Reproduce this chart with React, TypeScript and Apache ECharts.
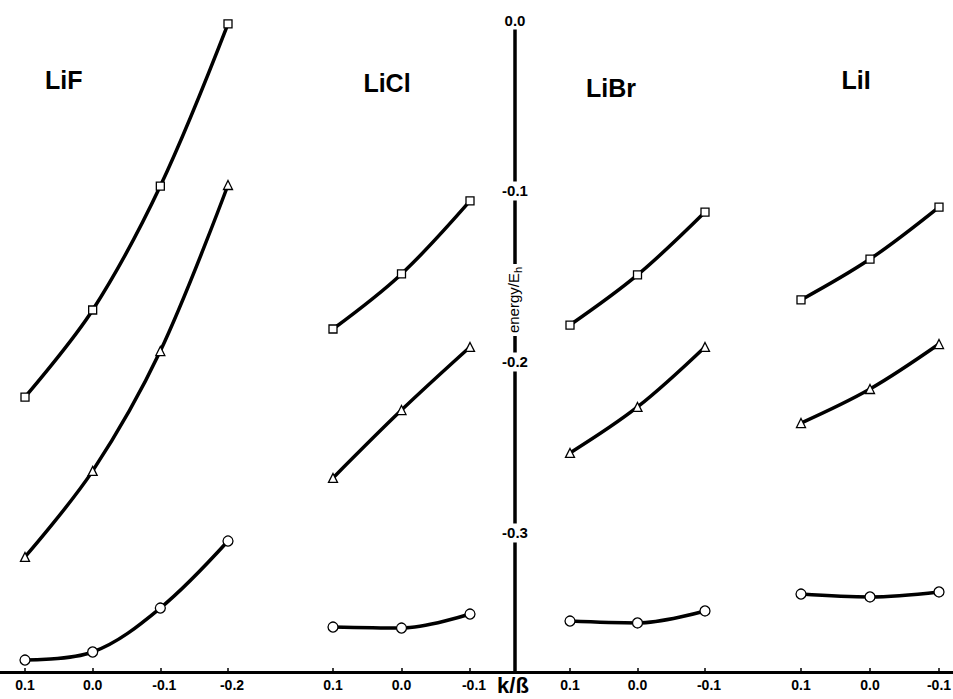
import React, { useEffect, useRef } from "react";
import * as echarts from "echarts";

// k values (k / ß) for each panel
const kLiF = [0.1, 0.0, -0.1, -0.2];
const kOther = [0.1, 0.0, -0.1];

// energies / E_h
const LiF_square = [-0.2205, -0.1696, -0.0971, -0.0023];
const LiF_triangle = [-0.314, -0.2637, -0.1936, -0.0965];
const LiF_circle = [-0.3743, -0.3696, -0.3439, -0.3047];

const LiCl_square = [-0.1807, -0.1485, -0.1058];
const LiCl_triangle = [-0.2678, -0.2281, -0.1912];
const LiCl_circle = [-0.355, -0.3556, -0.3474];

const LiBr_square = [-0.1784, -0.1491, -0.1123];
const LiBr_triangle = [-0.2532, -0.2263, -0.1912];
const LiBr_circle = [-0.3515, -0.3526, -0.3456];

const LiI_square = [-0.1637, -0.1398, -0.1094];
const LiI_triangle = [-0.2357, -0.2158, -0.1895];
const LiI_circle = [-0.3357, -0.3374, -0.3345];

const energyTicks = [0, -0.1, -0.2, -0.3];
const panelNames = ["LiF", "LiCl", "LiBr", "LiI"];

const FONT = "'Liberation Sans', Arial, Helvetica, sans-serif";
const Y_MIN = -0.3813;
const Y_MAX = 0;

const fmt = (v: number) => {
  const r = Math.round(v * 10) / 10;
  return r === 0 ? "0.0" : r.toFixed(1);
};

export default function App() {
  const ref = useRef<HTMLDivElement>(null);

  useEffect(() => {
    if (!ref.current) return;
    const chart = echarts.init(ref.current, undefined, { renderer: "svg" });

    const panels = [
      { name: panelNames[0], k: kLiF, sq: LiF_square, tr: LiF_triangle, ci: LiF_circle, left: 25, width: 203, min: -0.2, tx: 45, ty: 80, align: "left", negPad: 8 },
      { name: panelNames[1], k: kOther, sq: LiCl_square, tr: LiCl_triangle, ci: LiCl_circle, left: 333, width: 137, min: -0.1, tx: 387, ty: 83, align: "center", negPad: 8 },
      { name: panelNames[2], k: kOther, sq: LiBr_square, tr: LiBr_triangle, ci: LiBr_circle, left: 570, width: 135, min: -0.1, tx: 611, ty: 88, align: "center", negPad: 8 },
      { name: panelNames[3], k: kOther, sq: LiI_square, tr: LiI_triangle, ci: LiI_circle, left: 801, width: 138, min: -0.1, tx: 856, ty: 80, align: "center", negPad: 0 },
    ];

    const labelBase = { fontFamily: FONT, fontWeight: "bold" as const, fontSize: 14, color: "#000" };

    const grids: any[] = [
      { left: 0, right: 0, top: 20, bottom: 27, containLabel: false, outerBoundsMode: "none" },
    ];
    const xAxes: any[] = [
      {
        gridIndex: 0,
        type: "value",
        min: 0,
        max: 1,
        axisLine: { show: true, onZero: false, lineStyle: { color: "#000", width: 3 } },
        axisTick: { show: false },
        axisLabel: { show: false },
        splitLine: { show: false },
      },
    ];
    const yAxes: any[] = [
      {
        gridIndex: 0,
        type: "value",
        min: Y_MIN,
        max: Y_MAX,
        position: "left",
        offset: -515,
        axisLine: { show: true, onZero: false, lineStyle: { color: "#000", width: 3.5 } },
        axisTick: { show: false },
        splitLine: { show: false },
        axisLabel: {
          show: true,
          customValues: energyTicks,
          formatter: (v: number) => fmt(v),
          align: "center",
          verticalAlign: "middle",
          margin: 0,
          ...labelBase,
          fontSize: 15,
          backgroundColor: "#fff",
          padding: [2, 2, 2, 2],
          showMinLabel: true,
          showMaxLabel: true,
        },
      },
    ];
    const series: any[] = [];
    const graphics: any[] = [];

    panels.forEach((p, i) => {
      const gi = i + 1;
      grids.push({ left: p.left, width: p.width, top: 20, bottom: 27, containLabel: false, outerBoundsMode: "none" });
      xAxes.push({
        gridIndex: gi,
        type: "value",
        inverse: true,
        min: p.min,
        max: 0.1,
        interval: 0.1,
        axisLine: { show: false, onZero: false },
        axisTick: { show: true, inside: true, length: 4, lineStyle: { color: "#000", width: 1.5 } },
        axisLabel: {
          show: true,
          formatter: (v: number) => {
            const s = fmt(v);
            return s.startsWith("-") ? `{neg|${s}}` : s;
          },
          ...labelBase,
          margin: 6,
          rich: {
            neg: { ...labelBase, padding: [0, 0, 0, p.negPad] },
          },
        },
        splitLine: { show: false },
      });
      yAxes.push({
        gridIndex: gi,
        type: "value",
        min: Y_MIN,
        max: Y_MAX,
        show: false,
        splitLine: { show: false },
      });
      const mk = (vals: number[], symbol: string, size: number) => ({
        type: "line",
        xAxisIndex: gi,
        yAxisIndex: gi,
        data: p.k.map((k, j) => [k, vals[j]]),
        smooth: 0.35,
        clip: false,
        symbol,
        symbolSize: size,
        showSymbol: true,
        lineStyle: { color: "#000", width: 3.5 },
        itemStyle: { color: "#fff", borderColor: "#000", borderWidth: 1.3 },
        z: 3,
      });
      series.push(mk(p.sq, "rect", 8));
      series.push(mk(p.tr, "triangle", 9));
      series.push(mk(p.ci, "circle", 10));

      graphics.push({
        type: "text",
        x: p.tx,
        y: p.ty,
        z: 100,
        style: {
          text: p.name,
          fill: "#000",
          font: `bold 25px ${FONT}`,
          textAlign: p.align,
          textVerticalAlign: "middle",
        },
      });
    });

    graphics.push({
      type: "text",
      x: 513,
      y: 300,
      rotation: Math.PI / 2,
      z: 100,
      style: {
        text: "{a|energy/E}{b|h}",
        fill: "#000",
        textAlign: "center",
        textVerticalAlign: "middle",
        backgroundColor: "#fff",
        padding: [1, 3, 1, 3],
        rich: {
          a: { fontSize: 15, fontFamily: FONT, lineHeight: 20, fill: "#000", verticalAlign: "middle" },
          b: { fontSize: 11, fontFamily: FONT, lineHeight: 20, fill: "#000", verticalAlign: "bottom" },
        },
      },
    });
    graphics.push({
      type: "text",
      x: 513,
      y: 685,
      z: 100,
      style: {
        text: "k/ß",
        fill: "#000",
        font: `bold 22px ${FONT}`,
        textAlign: "center",
        textVerticalAlign: "middle",
      },
    });

    chart.setOption({
      animation: false,
      backgroundColor: "#fff",
      grid: grids,
      xAxis: xAxes,
      yAxis: yAxes,
      series,
      graphic: graphics,
    });

    return () => chart.dispose();
  }, []);

  return (
    <div
      ref={ref}
      style={{ position: "fixed", left: 0, top: 0, width: 953, height: 699, background: "#fff" }}
    />
  );
}
